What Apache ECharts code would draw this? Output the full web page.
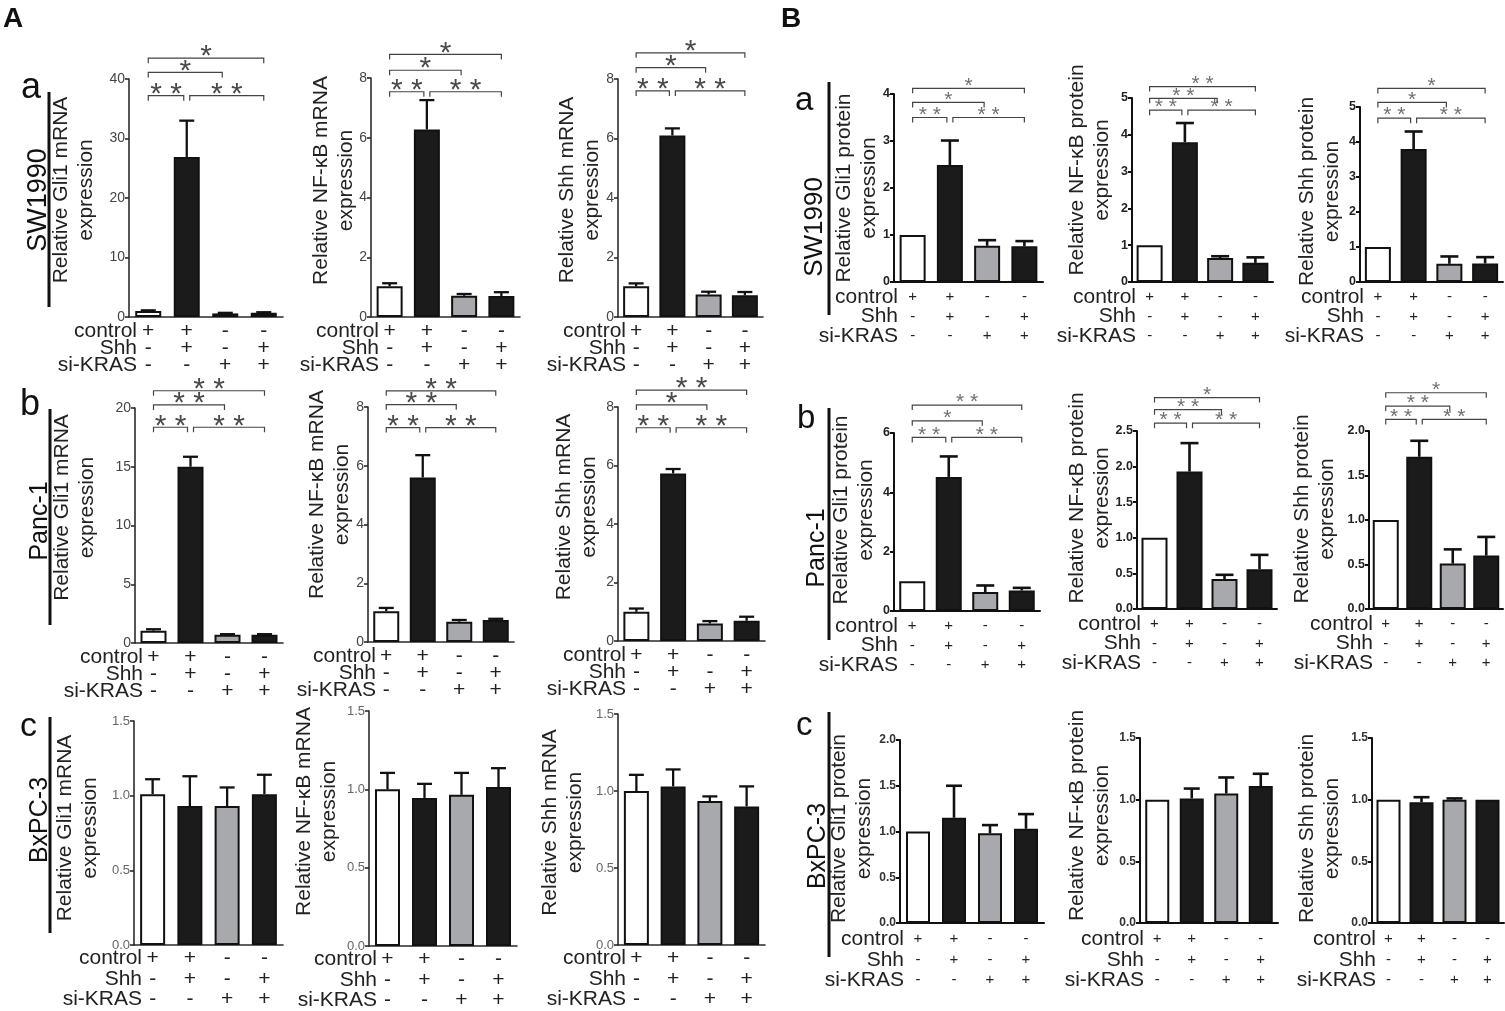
<!DOCTYPE html>
<html>
<head>
<meta charset="utf-8">
<title>KRAS knockdown and Shh / Gli1 / NF-κB expression</title>
<script src="https://cdn.jsdelivr.net/npm/echarts@6/dist/echarts.min.js"></script>
<style>
  html, body { margin: 0; padding: 0; background: #fff; }
  #chart { width: 1505px; height: 1011px; }
</style>
</head>
<body>
<div id="chart"></div>
<script>
// treatment groups and the +/- table under every x axis
var groups = ['control', 'Shh', 'si-KRAS', 'Shh + si-KRAS'];
var rowNames = ['control', 'Shh', 'si-KRAS'];
var controlRow = ['+', '+', '-', '-'];
var shhRow = ['-', '+', '-', '+'];
var siKrasRow = ['-', '-', '+', '+'];

// A: relative mRNA expression, mean and SD
var gli1MrnaSW1990 = [1.0, 26.9, 0.6, 0.7];
var gli1MrnaSW1990Sd = [0.12, 6.1, 0.1, 0.1];
var nfkbMrnaSW1990 = [1.03, 6.28, 0.71, 0.7];
var nfkbMrnaSW1990Sd = [0.1, 0.98, 0.06, 0.13];
var shhMrnaSW1990 = [1.03, 6.1, 0.76, 0.73];
var shhMrnaSW1990Sd = [0.1, 0.24, 0.09, 0.11];

var gli1MrnaPanc1 = [1.05, 15.0, 0.7, 0.7];
var gli1MrnaPanc1Sd = [0.12, 0.85, 0.05, 0.05];
var nfkbMrnaPanc1 = [1.05, 5.6, 0.69, 0.75];
var nfkbMrnaPanc1Sd = [0.11, 0.76, 0.06, 0.04];
var shhMrnaPanc1 = [1.0, 5.73, 0.6, 0.69];
var shhMrnaPanc1Sd = [0.11, 0.15, 0.08, 0.14];

var gli1MrnaBxPC3 = [1.01, 0.93, 0.93, 1.01];
var gli1MrnaBxPC3Sd = [0.1, 0.2, 0.125, 0.13];
var nfkbMrnaBxPC3 = [1.0, 0.945, 0.965, 1.015];
var nfkbMrnaBxPC3Sd = [0.105, 0.09, 0.14, 0.12];
var shhMrnaBxPC3 = [1.0, 1.03, 0.935, 0.9];
var shhMrnaBxPC3Sd = [0.105, 0.11, 0.03, 0.13];

// B: relative protein expression, mean and SD
var gli1ProtSW1990 = [1.0, 2.49, 0.77, 0.76];
var gli1ProtSW1990Sd = [0, 0.52, 0.12, 0.11];
var nfkbProtSW1990 = [1.0, 3.8, 0.65, 0.52];
var nfkbProtSW1990Sd = [0, 0.52, 0.05, 0.15];
var shhProtSW1990 = [1.0, 3.8, 0.52, 0.53];
var shhProtSW1990Sd = [0, 0.5, 0.21, 0.18];

var gli1ProtPanc1 = [1.0, 4.52, 0.64, 0.69];
var gli1ProtPanc1Sd = [0, 0.69, 0.22, 0.09];
var nfkbProtPanc1 = [1.0, 1.93, 0.42, 0.56];
var nfkbProtPanc1Sd = [0, 0.4, 0.06, 0.2];
var shhProtPanc1 = [1.0, 1.71, 0.51, 0.6];
var shhProtPanc1Sd = [0, 0.18, 0.16, 0.21];

var gli1ProtBxPC3 = [1.0, 1.15, 0.98, 1.03];
var gli1ProtBxPC3Sd = [0, 0.35, 0.09, 0.16];
var nfkbProtBxPC3 = [1.0, 1.01, 1.05, 1.11];
var nfkbProtBxPC3Sd = [0, 0.08, 0.13, 0.1];
var shhProtBxPC3 = [1.0, 0.98, 1.0, 1.0];
var shhProtBxPC3Sd = [0, 0.04, 0.01, 0];

// significance marks, in order: 1 vs 2, 2 vs 4, 1 vs 3, 1 vs 4
var sigGli1MrnaSW1990 = ['**', '**', '*', '*'];
var sigNfkbMrnaSW1990 = ['**', '**', '*', '*'];
var sigShhMrnaSW1990 = ['**', '**', '*', '*'];
var sigGli1MrnaPanc1 = ['**', '**', '**', '**'];
var sigNfkbMrnaPanc1 = ['**', '**', '**', '**'];
var sigShhMrnaPanc1 = ['**', '**', '*', '**'];
var sigGli1ProtSW1990 = ['**', '**', '*', '*'];
var sigNfkbProtSW1990 = ['**', '**', '**', '**'];
var sigShhProtSW1990 = ['**', '**', '*', '*'];
var sigGli1ProtPanc1 = ['**', '**', '*', '**'];
var sigNfkbProtPanc1 = ['**', '**', '**', '*'];
var sigShhProtPanc1 = ['**', '**', '**', '*'];

var FONT = '"Liberation Sans", Arial, Helvetica, sans-serif';
var barColors = ['#ffffff', '#1b1b1b', '#a8a9ad', '#1b1b1b'];

// which bars each bracket joins, and a small pixel nudge of its ends
var bracketPairs = [[0, 1, 0], [1, 3, 0], [0, 2, 1], [0, 3, 2]];
var bracketNudge = [[0, -3], [3, 0], [0, -3], [0, 0]];

var looks = {
  A:  {axis: '#2b2b2b', axisW: 1.6, tick: 14, tickW: 'normal', tickC: '#444', pm: 21, rowTop: 6, rowGap: 17, bar: 26, cap: 7.5, errW: 2.3, star: 30, starC: '#4a4a4a', lift: 1, rowDx: 8},
  Ac: {axis: '#2b2b2b', axisW: 1.6, tick: 13, tickW: 'normal', tickC: '#666', pm: 21, rowTop: 3, rowGap: 20.5, bar: 25, cap: 7.5, errW: 2.3, star: 30, starC: '#4a4a4a', lift: 1, rowDx: 8},
  B:  {axis: '#111', axisW: 2, tick: 12.5, tickW: 'bold', tickC: '#222', pm: 15, rowTop: 5.5, rowGap: 19.3, bar: 26, cap: 9, errW: 2.6, star: 21, starC: '#707070', lift: 2.5, rowDx: 4},
  Bc: {axis: '#111', axisW: 2, tick: 12, tickW: 'bold', tickC: '#333', pm: 15, rowTop: 6, rowGap: 20.5, bar: 24, cap: 8, errW: 2.6, star: 21, starC: '#707070', lift: 2.5, rowDx: 4}
};

// box = [left, top, right, bottom] of each plot area in pixels, lv = bracket heights in data units
var panels = [
  {look: 'A', box: [129, 79, 283, 317], max: 40, step: 10, dec: 0, gap: 30, shift: 8, name: 'Relative Gli1 mRNA\nexpression', v: gli1MrnaSW1990, sd: gli1MrnaSW1990Sd, sig: sigGli1MrnaSW1990, lv: [37.2, 41.1, 43.5]},
  {look: 'A', box: [371, 78, 520, 317], max: 8, step: 2, dec: 0, gap: 12, shift: 17, name: 'Relative NF-κB mRNA\nexpression', v: nfkbMrnaSW1990, sd: nfkbMrnaSW1990Sd, sig: sigNfkbMrnaSW1990, lv: [7.54, 8.26, 8.79]},
  {look: 'A', box: [618, 79, 763, 317], max: 8, step: 2, dec: 0, gap: 13, shift: 8, name: 'Relative Shh mRNA\nexpression', v: shhMrnaSW1990, sd: shhMrnaSW1990Sd, sig: sigShhMrnaSW1990, lv: [7.6, 8.38, 8.88]},
  {look: 'A', box: [135, 408, 283, 643], max: 20, step: 5, dec: 0, gap: 35, shift: 18, name: 'Relative Gli1 mRNA\nexpression', v: gli1MrnaPanc1, sd: gli1MrnaPanc1Sd, sig: sigGli1MrnaPanc1, lv: [18.36, 20.26, 21.47]},
  {look: 'A', box: [368, 407, 514, 642], max: 8, step: 2, dec: 0, gap: 13, shift: 30, name: 'Relative NF-κB mRNA\nexpression', v: nfkbMrnaPanc1, sd: nfkbMrnaPanc1Sd, sig: sigNfkbMrnaPanc1, lv: [7.3, 8.08, 8.55]},
  {look: 'A', box: [618, 407, 765, 641], max: 8, step: 2, dec: 0, gap: 16, shift: 17, name: 'Relative Shh mRNA\nexpression', v: shhMrnaPanc1, sd: shhMrnaPanc1Sd, sig: sigShhMrnaPanc1, lv: [7.29, 8.07, 8.58]},
  {look: 'Ac', box: [134, 721, 283, 945], max: 1.5, step: 0.5, dec: 1, gap: 31, shift: 5, name: 'Relative Gli1 mRNA\nexpression', v: gli1MrnaBxPC3, sd: gli1MrnaBxPC3Sd},
  {look: 'Ac', box: [369, 711, 517, 946], max: 1.5, step: 0.5, dec: 1, gap: 27, shift: 17, name: 'Relative NF-κB mRNA\nexpression', v: nfkbMrnaBxPC3, sd: nfkbMrnaBxPC3Sd},
  {look: 'Ac', box: [618, 714, 765, 945], max: 1.5, step: 0.5, dec: 1, gap: 30, shift: 7, name: 'Relative Shh mRNA\nexpression', v: shhMrnaBxPC3, sd: shhMrnaBxPC3Sd},

  {look: 'B', box: [894, 94, 1043, 282], max: 4, step: 1, dec: 0, gap: 12, shift: 0, name: 'Relative Gli1 protein\nexpression', v: gli1ProtSW1990, sd: gli1ProtSW1990Sd, sig: sigGli1ProtSW1990, lv: [3.5, 3.82, 4.12]},
  {look: 'B', box: [1132, 98, 1273, 282], max: 5, step: 1, dec: 0, gap: 17, shift: 20, name: 'Relative NF-κB protein\nexpression', v: nfkbProtSW1990, sd: nfkbProtSW1990Sd, sig: sigNfkbProtSW1990, lv: [4.67, 4.99, 5.31]},
  {look: 'B', box: [1360, 107, 1503, 282], max: 5, step: 1, dec: 0, gap: 15, shift: 3, name: 'Relative Shh protein\nexpression', v: shhProtSW1990, sd: shhProtSW1990Sd, sig: sigShhProtSW1990, lv: [4.68, 5.13, 5.53]},
  {look: 'B', box: [894, 433, 1040, 611], max: 6, step: 2, dec: 0, gap: 15, shift: 12, name: 'Relative Gli1 protein\nexpression', v: gli1ProtPanc1, sd: gli1ProtPanc1Sd, sig: sigGli1ProtPanc1, lv: [5.85, 6.41, 6.94]},
  {look: 'B', box: [1137, 431, 1277, 609], max: 2.5, step: 0.5, dec: 1, gap: 22, shift: 22, name: 'Relative NF-κB protein\nexpression', v: nfkbProtPanc1, sd: nfkbProtPanc1Sd, sig: sigNfkbProtPanc1, lv: [2.61, 2.8, 2.97]},
  {look: 'B', box: [1369, 431, 1503, 609], max: 2, step: 0.5, dec: 1, gap: 29, shift: 11, name: 'Relative Shh protein\nexpression', v: shhProtPanc1, sd: shhProtPanc1Sd, sig: sigShhProtPanc1, lv: [2.13, 2.28, 2.43]},
  {look: 'Bc', box: [900, 740, 1044, 923], max: 2, step: 0.5, dec: 1, gap: 23, shift: 3, name: 'Relative Gli1 protein\nexpression', v: gli1ProtBxPC3, sd: gli1ProtBxPC3Sd},
  {look: 'Bc', box: [1140, 738, 1278, 923], max: 1.5, step: 0.5, dec: 1, gap: 25, shift: 15, name: 'Relative NF-κB protein\nexpression', v: nfkbProtBxPC3, sd: nfkbProtBxPC3Sd},
  {look: 'Bc', box: [1372, 738, 1504, 923], max: 1.5, step: 0.5, dec: 1, gap: 27, shift: 2, name: 'Relative Shh protein\nexpression', v: shhProtBxPC3, sd: shhProtBxPC3Sd}
];

// panel letters, cell line names with their rules
var letters = [
  {t: 'A', x: 3, y: 33, size: 28, bold: true},
  {t: 'B', x: 781, y: 33, size: 28, bold: true},
  {t: 'a', x: 21, y: 106, size: 36}, {t: 'b', x: 20, y: 423, size: 36}, {t: 'c', x: 20, y: 744, size: 34},
  {t: 'a', x: 795, y: 117, size: 33}, {t: 'b', x: 797, y: 435, size: 33}, {t: 'c', x: 796, y: 742, size: 33}
];
var cellLines = [
  {t: 'SW1990', x: 52, y: 200, size: 27, rule: [49, 92, 307]},
  {t: 'Panc-1', x: 53, y: 521, size: 25, rule: [50, 409, 625]},
  {t: 'BxPC-3', x: 53, y: 820, size: 25, rule: [50, 717, 933]},
  {t: 'SW1990', x: 828, y: 227, size: 26, rule: [829, 82, 315]},
  {t: 'Panc-1', x: 830, y: 548, size: 25, rule: [829, 408, 640]},
  {t: 'BxPC-3', x: 831, y: 846, size: 25, rule: [829, 712, 957]}
];

function errorBars(st) {
  return function (params, api) {
    var sd = api.value(2);
    if (!sd) return {type: 'group', children: []};
    var i = api.value(0), m = api.value(1);
    var p0 = api.coord([i, m]);
    var p1 = api.coord([i, m + sd]);
    var s = {stroke: '#111', lineWidth: st.errW};
    return {type: 'group', children: [
      {type: 'line', shape: {x1: p0[0], y1: p0[1], x2: p1[0], y2: p1[1]}, style: s},
      {type: 'line', shape: {x1: p1[0] - st.cap, y1: p1[1], x2: p1[0] + st.cap, y2: p1[1]}, style: s}
    ]};
  };
}

function brackets(p, st) {
  return function (params, api) {
    var n = params.dataIndex;
    var lv = api.value(2);
    var a = api.coord([api.value(0), lv]);
    var b = api.coord([api.value(1), lv]);
    var x1 = a[0] + bracketNudge[n][0], x2 = b[0] + bracketNudge[n][1], y = a[1];
    var label = p.sig[n] === '**' ? '* *' : '*';
    return {type: 'group', children: [
      {type: 'polyline', shape: {points: [[x1, y + 5], [x1, y], [x2, y], [x2, y + 5]]},
        style: {stroke: '#444', lineWidth: 1.2, fill: null}},
      {type: 'text', x: (x1 + x2) / 2, y: y - st.lift,
        style: {text: label, fill: st.starC, fontSize: st.star, fontFamily: FONT, align: 'center', verticalAlign: 'middle'}}
    ]};
  };
}

var grids = [], xAxes = [], yAxes = [], series = [], graphics = [];

panels.forEach(function (p, k) {
  var st = looks[p.look];
  var left = p.box[0], top = p.box[1], right = p.box[2], bottom = p.box[3];

  grids.push({left: left, top: top, width: right - left, height: bottom - top, containLabel: false, outerBoundsMode: 'none'});

  xAxes.push({
    type: 'category', gridIndex: k, data: groups,
    axisLine: {lineStyle: {color: st.axis, width: st.axisW}},
    axisTick: {alignWithLabel: true, length: 4, lineStyle: {color: st.axis, width: st.axisW}},
    axisLabel: {
      interval: 0, margin: st.rowTop, lineHeight: st.rowGap, fontSize: st.pm, color: '#222', fontFamily: FONT,
      formatter: function (v, i) { return controlRow[i] + '\n' + shhRow[i] + '\n' + siKrasRow[i]; }
    },
    splitLine: {show: false}
  });

  yAxes.push({
    type: 'value', gridIndex: k, min: 0, max: p.max, interval: p.step,
    name: p.name, nameLocation: 'middle', nameRotate: 90, nameGap: p.gap, nameMoveOverlap: false,
    nameTextStyle: {fontSize: 21, lineHeight: 25, color: '#222', fontFamily: FONT, padding: [0, 0, 0, 2 * p.shift]},
    axisLine: {show: true, lineStyle: {color: st.axis, width: st.axisW}},
    axisTick: {show: true, length: 4, lineStyle: {color: st.axis, width: st.axisW}},
    axisLabel: {
      margin: 4, fontSize: st.tick, fontWeight: st.tickW, color: st.tickC, fontFamily: FONT,
      formatter: function (v) { return v.toFixed(p.dec); }
    },
    splitLine: {show: false}
  });

  series.push({
    type: 'bar', xAxisIndex: k, yAxisIndex: k, barWidth: st.bar, silent: true,
    itemStyle: {borderColor: '#111', borderWidth: 2},
    data: p.v.map(function (v, i) { return {value: v, itemStyle: {color: barColors[i]}}; })
  });

  series.push({
    type: 'custom', xAxisIndex: k, yAxisIndex: k, z: 3, silent: true,
    encode: {x: 0, y: 1},
    renderItem: errorBars(st),
    data: p.v.map(function (v, i) { return [i, v, p.sd[i]]; })
  });

  if (p.sig) {
    series.push({
      type: 'custom', xAxisIndex: k, yAxisIndex: k, z: 4, silent: true, clip: false,
      encode: {x: 0, y: 2},
      renderItem: brackets(p, st),
      data: bracketPairs.map(function (b) { return [b[0], b[1], p.lv[b[2]]]; })
    });
  }

  // row names to the left of the +/- table
  graphics.push({
    type: 'text', x: left + st.rowDx, y: bottom + st.rowTop,
    style: {text: rowNames.join('\n'), fontSize: 21, lineHeight: st.rowGap, fontFamily: FONT,
      fill: '#222', align: 'right', verticalAlign: 'top'}
  });
});

letters.forEach(function (l) {
  graphics.push({
    type: 'text', x: l.x, y: l.y,
    style: {text: l.t, fontSize: l.size, fontWeight: l.bold ? 'bold' : 'normal', fontFamily: FONT,
      fill: '#111', align: 'left', verticalAlign: 'bottom'}
  });
});

cellLines.forEach(function (c) {
  graphics.push({
    type: 'text', x: c.x, y: c.y, rotation: Math.PI / 2,
    style: {text: c.t, fontSize: c.size, fontFamily: FONT, fill: '#111', align: 'center', verticalAlign: 'bottom'}
  });
  graphics.push({
    type: 'line', shape: {x1: c.rule[0], y1: c.rule[1], x2: c.rule[0], y2: c.rule[2]},
    style: {stroke: '#111', lineWidth: 3}
  });
});

var chart = echarts.init(document.getElementById('chart'));
chart.setOption({
  animation: false,
  backgroundColor: '#fff',
  grid: grids,
  xAxis: xAxes,
  yAxis: yAxes,
  series: series,
  graphic: {elements: graphics}
});
</script>
</body>
</html>
